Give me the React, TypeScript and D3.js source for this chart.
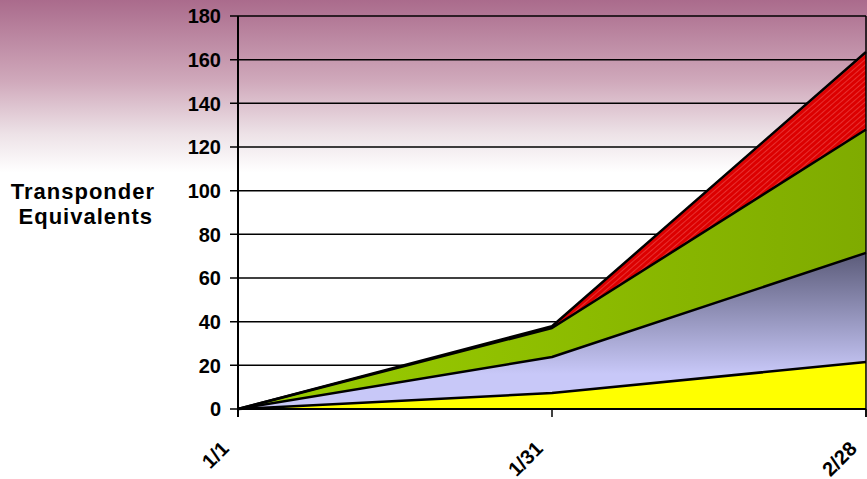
import React from "react";
import * as d3 from "d3";

const categories = ["1/1", "1/31", "2/28"];
const yellowValues = [0, 7.3, 21.5];
const lavenderValues = [0, 16.5, 50];
const greenValues = [0, 13.3, 56.5];
const redValues = [0, 0.8, 35.5];
const yTicks = [0, 20, 40, 60, 80, 100, 120, 140, 160, 180];

const W = 867;
const H = 479;
const margin = { left: 238, right: 1, top: 16, bottom: 70 };

export default function App() {
  const x = d3
    .scalePoint<string>()
    .domain(categories)
    .range([margin.left, W - margin.right]);
  const y = d3
    .scaleLinear()
    .domain([0, 180])
    .range([H - margin.bottom, margin.top]);

  const keys = ["yellow", "lavender", "green", "red"];
  const rows = categories.map((c, i) => ({
    cat: c,
    yellow: yellowValues[i],
    lavender: lavenderValues[i],
    green: greenValues[i],
    red: redValues[i],
  }));
  const stack = d3.stack<any>().keys(keys)(rows);
  const area = d3
    .area<any>()
    .x((d) => x(d.data.cat) as number)
    .y0((d) => y(d[0]))
    .y1((d) => y(d[1]));
  const topLine = d3
    .line<any>()
    .x((d) => x(d.data.cat) as number)
    .y((d) => y(d[1]));

  const fills: Record<string, string> = {
    yellow: "#ffff00",
    lavender: "url(#lavGrad)",
    green: "url(#greenGrad)",
    red: "url(#redHatch)",
  };

  const x0 = margin.left;
  const x1 = W - margin.right;
  const yb = y(0);
  const font = "'Liberation Sans', Arial, sans-serif";

  return (
    <svg
      width={W}
      height={H}
      style={{ position: "absolute", left: 0, top: 0, display: "block" }}
    >
      <defs>
        <linearGradient id="bgGrad" x1="0" y1="0" x2="0" y2={H} gradientUnits="userSpaceOnUse">
          <stop offset="0" stopColor="#aa6b8c" />
          <stop offset="0.17" stopColor="#d0a9bb" />
          <stop offset="0.28" stopColor="#ede2e7" />
          <stop offset="0.36" stopColor="#ffffff" />
          <stop offset="1" stopColor="#ffffff" />
        </linearGradient>
        <linearGradient
          id="lavGrad"
          x1="0"
          y1={y(72)}
          x2="0"
          y2={y(16)}
          gradientUnits="userSpaceOnUse"
        >
          <stop offset="0" stopColor="#5a5a78" />
          <stop offset="1" stopColor="#c8c8f8" />
        </linearGradient>
        <linearGradient
          id="greenGrad"
          x1={x0}
          y1="0"
          x2={x1}
          y2="0"
          gradientUnits="userSpaceOnUse"
        >
          <stop offset="0" stopColor="#9ccf00" />
          <stop offset="1" stopColor="#7fab00" />
        </linearGradient>
        <pattern
          id="redHatch"
          width="4"
          height="4"
          patternUnits="userSpaceOnUse"
          patternTransform="rotate(-41)"
        >
          <rect width="4" height="4" fill="#dc0000" />
          <rect width="4" height="1" y="0" fill="#e83030" />
        </pattern>
      </defs>
      <rect x={0} y={0} width={W} height={H} fill="url(#bgGrad)" />

      {/* gridlines */}
      {yTicks.map((t) => (
        <line
          key={t}
          x1={x0 - 8}
          x2={x1}
          y1={y(t)}
          y2={y(t)}
          stroke="#000"
          strokeWidth={1.5}
        />
      ))}

      {/* areas */}
      {stack.map((s) => (
        <path key={s.key} d={area(s) || ""} fill={fills[s.key]} />
      ))}
      {stack.map((s) => (
        <path
          key={s.key + "-l"}
          d={topLine(s) || ""}
          fill="none"
          stroke="#000"
          strokeWidth={2.5}
          strokeLinejoin="round"
        />
      ))}

      {/* axes */}
      <line x1={x0} x2={x0} y1={margin.top} y2={yb + 8} stroke="#000" strokeWidth={2} />
      <line x1={x1} x2={x1} y1={margin.top} y2={yb + 8} stroke="#000" strokeWidth={1.5} />
      <line x1={x0} x2={x1} y1={yb} y2={yb} stroke="#000" strokeWidth={2} />
      {categories.map((c) => (
        <line
          key={c}
          x1={x(c)}
          x2={x(c)}
          y1={yb}
          y2={yb + 8}
          stroke="#000"
          strokeWidth={1.5}
        />
      ))}

      {yTicks.map((t) => (
        <text
          key={t}
          x={221}
          y={y(t)}
          dy="0.36em"
          textAnchor="end"
          fontFamily={font}
          fontWeight="bold"
          fontSize={20}
          fill="#000"
        >
          {t}
        </text>
      ))}

      {categories.map((c) => (
        <text
          key={c}
          transform={`translate(${(x(c) as number) - 8},${yb + 41}) rotate(-45)`}
          textAnchor="end"
          fontFamily={font}
          fontWeight="bold"
          fontSize={20}
          fill="#000"
        >
          {c}
        </text>
      ))}

      <text
        x={155}
        y={199}
        textAnchor="end"
        fontFamily={font}
        fontWeight="bold"
        fontSize={22}
        letterSpacing={1}
        fill="#000"
      >
        Transponder
      </text>
      <text
        x={153}
        y={224}
        textAnchor="end"
        fontFamily={font}
        fontWeight="bold"
        fontSize={22}
        letterSpacing={1}
        fill="#000"
      >
        Equivalents
      </text>
    </svg>
  );
}
